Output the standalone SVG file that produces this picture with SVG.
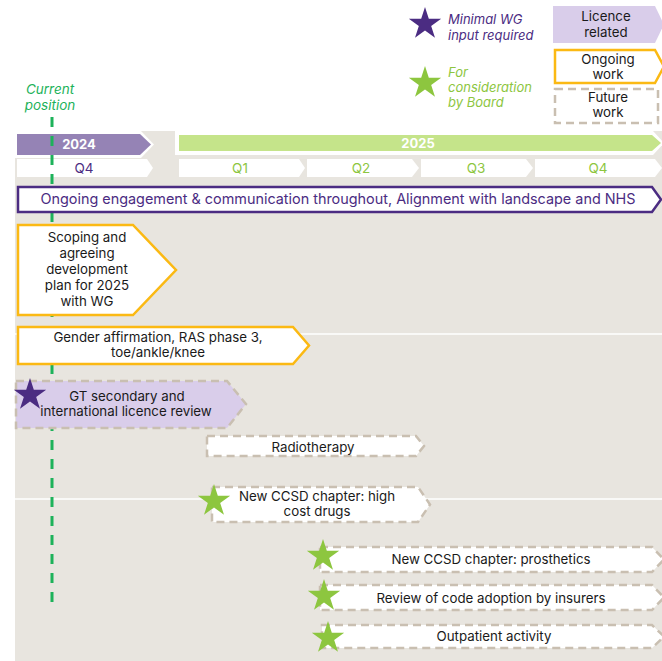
<svg xmlns="http://www.w3.org/2000/svg" width="662" height="661" viewBox="0 0 662 661">
<defs>
<path id="star" d="M0,-1 L0.2245,-0.309 L0.951,-0.309 L0.363,0.118 L0.588,0.809 L0,0.382 L-0.588,0.809 L-0.363,0.118 L-0.951,-0.309 L-0.2245,-0.309 Z"/>
<style>
text{font-family:Inter,"Liberation Sans",sans-serif;}
.t{font-size:13.3px;fill:#1a1a1a;text-anchor:middle;}
.yr{font-size:13px;font-weight:bold;fill:#fff;text-anchor:middle;}
.q{font-size:13.5px;text-anchor:middle;}
.leg{font-size:13px;font-style:italic;}
.fut{fill:#fff;stroke:#c9bfb1;stroke-width:2.5;stroke-dasharray:8 5;}
.ong{fill:#fff;stroke:#fbb913;stroke-width:2.5;}
.lic{fill:#d9cdea;}
.sp{fill:#4b2c82;}
.sg{fill:#8dc63f;}
</style>
</defs>
<rect x="0" y="0" width="662" height="661" fill="#fff"/>
<rect x="15" y="131" width="647" height="530" fill="#e8e5df"/>
<line x1="15" y1="334" x2="662" y2="334" stroke="#fff" stroke-width="1.5"/>
<line x1="15" y1="499" x2="662" y2="499" stroke="#fff" stroke-width="1.5"/>

<g id="timeline">
<polygon points="15,131 141,131 154,144.5 141,158 15,158" fill="#fff"/>
<polygon points="17,134 140,134 151,144.5 140,155 17,155" fill="#9583b5"/>
<text class="yr" x="79" y="149">2024</text>
<polygon points="175,131 653,131 664,143 653,155 175,155" fill="#fff"/>
<polygon points="179,135 652,135 661,143 652,151 179,151" fill="#c5e48a"/>
<text class="yr" x="418" y="148">2025</text>
<polygon points="17,159 147,159 153,168 147,177 17,177" fill="#fff"/>
<polygon points="179,159 299,159 305,168 299,177 179,177" fill="#fff"/>
<polygon points="307,159 412,159 419,168 412,177 307,177" fill="#fff"/>
<polygon points="421,159 526,159 533,168 526,177 421,177" fill="#fff"/>
<polygon points="535,159 655,159 662,168 655,177 535,177" fill="#fff"/>
<text class="q" x="84" y="173" fill="#4b2c82">Q4</text>
<text class="q" x="240" y="173" fill="#8dc63f">Q1</text>
<text class="q" x="361" y="173" fill="#8dc63f">Q2</text>
<text class="q" x="476" y="173" fill="#8dc63f">Q3</text>
<text class="q" x="598" y="173" fill="#8dc63f">Q4</text>
</g>

<g id="current-position">
<line x1="52" y1="117" x2="52" y2="608" stroke="#1db25a" stroke-width="3" stroke-dasharray="10 9"/>
<text x="50" y="94" font-size="13.5" font-style="italic" fill="#1db25a" text-anchor="middle">Current</text>
<text x="50" y="110" font-size="13.5" font-style="italic" fill="#1db25a" text-anchor="middle">position</text>
</g>

<g id="legend">
<use href="#star" class="sp" transform="translate(425,24) scale(17)"/>
<text class="leg" x="448" y="24" fill="#4b2c82">Minimal WG</text>
<text class="leg" x="448" y="40" fill="#4b2c82">input required</text>
<use href="#star" class="sg" transform="translate(425,83) scale(17)"/>
<text class="leg" x="448" y="77" fill="#8dc63f">For</text>
<text class="leg" x="448" y="92" fill="#8dc63f">consideration</text>
<text class="leg" x="448" y="107" fill="#8dc63f">by Board</text>
<g id="legend-licence">
<polygon class="lic" points="553,6 655,6 664,24.5 655,43 553,43"/>
<text class="t" x="606" y="21">Licence</text>
<text class="t" x="606" y="37">related</text>
</g>
<g id="legend-ongoing">
<polygon class="ong" points="555,50 655,50 664,66.5 655,83 555,83"/>
<text class="t" x="608" y="64">Ongoing</text>
<text class="t" x="608" y="79">work</text>
</g>
<g id="legend-future">
<polygon class="fut" points="555,89 658,89 658,123 555,123"/>
<text class="t" x="608" y="102">Future</text>
<text class="t" x="608" y="117">work</text>
</g>
</g>

<g id="node-engagement">
<polygon points="18,187 652,187 661,199.5 652,212 18,212" fill="#fff" stroke="#4b2c82" stroke-width="2.5"/>
<text x="338" y="204" font-size="14.4" fill="#4b2c82" text-anchor="middle">Ongoing engagement &amp; communication throughout, Alignment with landscape and NHS</text>
</g>

<g id="node-scoping">
<polygon class="ong" points="18,225 133,225 176,270 133,315 18,315"/>
<text class="t" x="87" y="242">Scoping and</text>
<text class="t" x="87" y="258">agreeing</text>
<text class="t" x="87" y="274">development</text>
<text class="t" x="87" y="290">plan for 2025</text>
<text class="t" x="87" y="306">with WG</text>
</g>

<g id="node-gender">
<polygon class="ong" points="18,327 293,327 309,345.5 293,364 18,364"/>
<text class="t" x="158" y="342">Gender affirmation, RAS phase 3,</text>
<text class="t" x="158" y="357">toe/ankle/knee</text>
</g>

<g id="node-gt">
<polygon class="lic" points="16,381 227,381 246,404 227,428 16,428" stroke="#c9bfb1" stroke-width="2.5" stroke-dasharray="8 5"/>
<use href="#star" class="sp" transform="translate(30,395) scale(17)"/>
<text class="t" x="127" y="401">GT secondary and</text>
<text class="t" x="126" y="416">international licence review</text>
</g>

<g id="node-radiotherapy">
<polygon class="fut" points="207,436 416,436 424,446 416,456 207,456"/>
<text class="t" x="313" y="452">Radiotherapy</text>
</g>

<g id="node-drugs">
<polygon class="fut" points="212,487 418,487 430,504.5 418,522 212,522"/>
<use href="#star" class="sg" transform="translate(214,501) scale(17)"/>
<text class="t" x="317" y="501">New CCSD chapter: high</text>
<text class="t" x="317" y="516">cost drugs</text>
</g>

<g id="node-prosthetics">
<polygon class="fut" points="320,547 652,547 664,559.5 652,572 320,572"/>
<use href="#star" class="sg" transform="translate(323,556) scale(17)"/>
<text class="t" x="491" y="564">New CCSD chapter: prosthetics</text>
</g>

<g id="node-insurers">
<polygon class="fut" points="320,585 652,585 664,597.5 652,610 320,610"/>
<use href="#star" class="sg" transform="translate(324,596) scale(17)"/>
<text class="t" x="491" y="603">Review of code adoption by insurers</text>
</g>

<g id="node-outpatient">
<polygon class="fut" points="322,625 652,625 664,636.5 652,648 322,648"/>
<use href="#star" class="sg" transform="translate(328,638) scale(17)"/>
<text class="t" x="494" y="641">Outpatient activity</text>
</g>

<g id="connectors"></g>
</svg>
